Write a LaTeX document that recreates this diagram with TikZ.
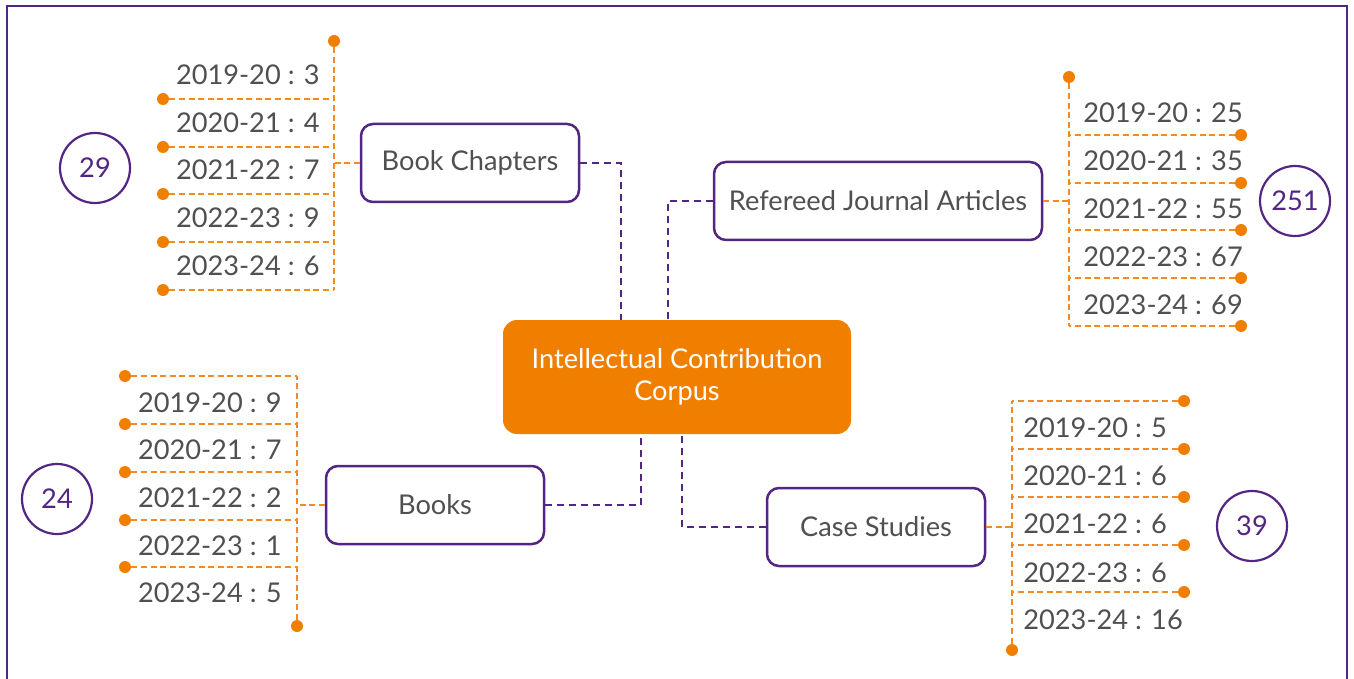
\documentclass[tikz,border=0pt]{standalone}
\usepackage{fontspec}
\setmainfont{Lato}
\usepackage{tikz}
\usetikzlibrary{positioning,calc}
\definecolor{icpurple}{RGB}{82,38,130}
\definecolor{icorange}{RGB}{240,127,0}
\definecolor{iclight}{RGB}{243,139,36}
\definecolor{icgray}{RGB}{80,80,80}

\tikzset{
    catbox/.style={draw=icpurple, line width=1.25pt, rounded corners=6pt, fill=white,
        minimum width=109pt, minimum height=39pt, text=icgray},
    hubbox/.style={fill=icorange, rounded corners=7pt, minimum width=174pt,
        minimum height=57pt, text=white, align=center},
    total/.style={circle, draw=icpurple, line width=1.1pt, minimum size=35pt,
        inner sep=0pt, text=icpurple},
    yearlbl/.style={text=icgray, inner sep=0pt},
    dotmark/.style={circle, fill=icorange, inner sep=0pt, minimum size=6pt},
    link/.style={icpurple, line width=1.2pt, dash pattern=on 3.5pt off 2.5pt},
    twig/.style={iclight, line width=1.1pt, dash pattern=on 3pt off 1.8pt}
}

\begin{document}
\begin{tikzpicture}[x=0.5pt, y=-0.5pt, font=\fontsize{13.6pt}{16pt}\selectfont]
    \useasboundingbox (0,0) rectangle (1354,679);

    % Frame (open at the bottom)
    \draw[icpurple, line width=1pt] (7,679) -- (7,6) -- (1347,6) -- (1347,679);

    % Central topic
    \node[hubbox] (hub) at (677,377) {Intellectual Contribution\\[0pt]Corpus};

    % Categories
    \node[catbox] (bc) at (470,163) {Book Chapters};
    \node[catbox, minimum width=164pt] (rja) at (878,201) {Refereed Journal Articles};
    \node[catbox] (bk) at (435,505) {Books};
    \node[catbox] (cs) at (876,527) {Case Studies};

    % Links to the centre
    \draw[link] (bc.east) -| ([xshift=-28pt]hub.north);
    \draw[link] (rja.west) -| ([xshift=-4.5pt]hub.north);
    \draw[link] (bk.east) -| ([xshift=-18pt]hub.south);
    \draw[link] (cs.west) -| ([xshift=2.5pt]hub.south);

    % Totals
    \node[total] (tot29) at (95,168) {29};
    \node[total] (tot251) at (1295,201) {251};
    \node[total] (tot24) at (57,499) {24};
    \node[total] (tot39) at (1252,526) {39};

    % Book Chapters by year
    \node[dotmark] (bct) at (334,41) {};
    \node[dotmark] (bcd1) at (163,99) {};
    \node[dotmark] (bcd2) at (163,147) {};
    \node[dotmark] (bcd3) at (163,194) {};
    \node[dotmark] (bcd4) at (163,242) {};
    \node[dotmark] (bcd5) at (163,290) {};
    \draw[twig] (bct) -- (bct |- bcd5);
    \draw[twig] (bcd1) -- (bcd1 -| bct);
    \draw[twig] (bcd2) -- (bcd2 -| bct);
    \draw[twig] (bcd3) -- (bcd3 -| bct);
    \draw[twig] (bcd4) -- (bcd4 -| bct);
    \draw[twig] (bcd5) -- (bcd5 -| bct);
    \draw[twig] (bc.west) -- (bc.west -| bct);
    \node[yearlbl, anchor=east] (bcy1) at (320,75) {2019-20 : 3};
    \node[yearlbl, anchor=east] (bcy2) at (320,123) {2020-21 : 4};
    \node[yearlbl, anchor=east] (bcy3) at (320,170) {2021-22 : 7};
    \node[yearlbl, anchor=east] (bcy4) at (320,218) {2022-23 : 9};
    \node[yearlbl, anchor=east] (bcy5) at (320,266) {2023-24 : 6};

    % Refereed Journal Articles by year
    \node[dotmark] (rjt) at (1069,77) {};
    \node[dotmark] (rjd1) at (1241,135) {};
    \node[dotmark] (rjd2) at (1241,183) {};
    \node[dotmark] (rjd3) at (1241,230) {};
    \node[dotmark] (rjd4) at (1241,278) {};
    \node[dotmark] (rjd5) at (1241,326) {};
    \draw[twig] (rjt) -- (rjt |- rjd5);
    \draw[twig] (rjd1) -- (rjd1 -| rjt);
    \draw[twig] (rjd2) -- (rjd2 -| rjt);
    \draw[twig] (rjd3) -- (rjd3 -| rjt);
    \draw[twig] (rjd4) -- (rjd4 -| rjt);
    \draw[twig] (rjd5) -- (rjd5 -| rjt);
    \draw[twig] (rja.east) -- (rja.east -| rjt);
    \node[yearlbl, anchor=west] (rjy1) at (1083,113) {2019-20 : 25};
    \node[yearlbl, anchor=west] (rjy2) at (1083,161) {2020-21 : 35};
    \node[yearlbl, anchor=west] (rjy3) at (1083,209) {2021-22 : 55};
    \node[yearlbl, anchor=west] (rjy4) at (1083,257) {2022-23 : 67};
    \node[yearlbl, anchor=west] (rjy5) at (1083,305) {2023-24 : 69};

    % Books by year
    \node[dotmark] (bkb) at (297,626) {};
    \node[dotmark] (bkd1) at (125,376) {};
    \node[dotmark] (bkd2) at (125,424) {};
    \node[dotmark] (bkd3) at (125,472) {};
    \node[dotmark] (bkd4) at (125,520) {};
    \node[dotmark] (bkd5) at (125,567) {};
    \draw[twig] (bkb) -- (bkb |- bkd1);
    \draw[twig] (bkd1) -- (bkd1 -| bkb);
    \draw[twig] (bkd2) -- (bkd2 -| bkb);
    \draw[twig] (bkd3) -- (bkd3 -| bkb);
    \draw[twig] (bkd4) -- (bkd4 -| bkb);
    \draw[twig] (bkd5) -- (bkd5 -| bkb);
    \draw[twig] (bk.west) -- (bk.west -| bkb);
    \node[yearlbl, anchor=east] (bky1) at (282,403) {2019-20 : 9};
    \node[yearlbl, anchor=east] (bky2) at (282,450) {2020-21 : 7};
    \node[yearlbl, anchor=east] (bky3) at (282,498) {2021-22 : 2};
    \node[yearlbl, anchor=east] (bky4) at (282,546) {2022-23 : 1};
    \node[yearlbl, anchor=east] (bky5) at (282,593) {2023-24 : 5};

    % Case Studies by year
    \node[dotmark] (csb) at (1012,650) {};
    \node[dotmark] (csd1) at (1184,401) {};
    \node[dotmark] (csd2) at (1184,449) {};
    \node[dotmark] (csd3) at (1184,497) {};
    \node[dotmark] (csd4) at (1184,545) {};
    \node[dotmark] (csd5) at (1184,592) {};
    \draw[twig] (csb) -- (csb |- csd1);
    \draw[twig] (csd1) -- (csd1 -| csb);
    \draw[twig] (csd2) -- (csd2 -| csb);
    \draw[twig] (csd3) -- (csd3 -| csb);
    \draw[twig] (csd4) -- (csd4 -| csb);
    \draw[twig] (csd5) -- (csd5 -| csb);
    \draw[twig] (cs.east) -- (cs.east -| csb);
    \node[yearlbl, anchor=west] (csy1) at (1023,428) {2019-20 : 5};
    \node[yearlbl, anchor=west] (csy2) at (1023,476) {2020-21 : 6};
    \node[yearlbl, anchor=west] (csy3) at (1023,524) {2021-22 : 6};
    \node[yearlbl, anchor=west] (csy4) at (1023,573) {2022-23 : 6};
    \node[yearlbl, anchor=west] (csy5) at (1023,620) {2023-24 : 16};
\end{tikzpicture}
\end{document}
